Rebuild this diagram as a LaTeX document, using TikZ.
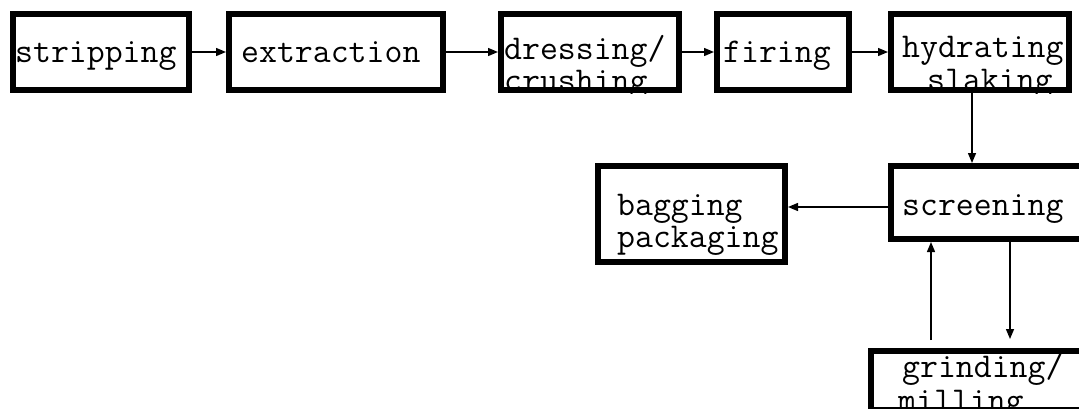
\documentclass[tikz,border=0pt]{standalone}
\usepackage{fontspec}
\usetikzlibrary{arrows.meta,calc}
\begin{document}
\begin{tikzpicture}[x=1pt,y=-1pt,
  box/.style={draw,line width=6pt,rectangle,inner sep=0pt},
  lbl/.style={anchor=base west,inner sep=0pt,font=\ttfamily\fontsize{34.8}{34.8}\selectfont},
  arr/.style={line width=1.4pt,-{Triangle[length=10pt,width=8pt]}}]
\useasboundingbox (0,0) rectangle (1079,408);

% boxes
\node[box,minimum width=176pt,minimum height=76pt] (strip) at (101,52) {};
\node[box,minimum width=214pt,minimum height=76pt] (extr) at (336,52) {};
\node[box,minimum width=178pt,minimum height=76pt] (dress) at (590,52) {};
\node[box,minimum width=132pt,minimum height=76pt] (fire) at (783,52) {};
\node[box,minimum width=178pt,minimum height=76pt] (hydr) at (980,52) {};
\node[box,minimum width=187pt,minimum height=96pt] (bag) at (691.5,214) {};
\node[box,minimum width=198pt,minimum height=73pt] (screen) at (990,202.5) {};
\node[box,minimum width=218pt,minimum height=59pt] (grind) at (980,380.5) {};

% texts
\begin{scope}
\clip (strip.north west) rectangle (strip.south east);
\node[lbl] (tstrip) at (15,62) {stripping};
\end{scope}
\begin{scope}
\clip (extr.north west) rectangle (extr.south east);
\node[lbl] (textr) at (241,62) {extraction};
\end{scope}
\begin{scope}
\clip (dress.north west) rectangle (dress.south east);
\node[lbl] (tdress1) at (504,59) {dressing/};
\node[lbl] (tdress2) at (504,91) {crushing};
\end{scope}
\begin{scope}
\clip (fire.north west) rectangle (fire.south east);
\node[lbl] (tfire) at (723,62) {firing};
\end{scope}
\begin{scope}
\clip (hydr.north west) rectangle (hydr.south east);
\node[lbl] (thydr1) at (902,57) {hydrating};
\node[lbl] (thydr2) at (927,90) {slaking};
\end{scope}
\begin{scope}
\clip (bag.north west) rectangle (bag.south east);
\node[lbl] (tbag1) at (617,215) {bagging};
\node[lbl] (tbag2) at (617,247) {packaging};
\end{scope}
\begin{scope}
\clip (screen.north west) rectangle (screen.south east);
\node[lbl] (tscreen) at (902,215) {screening};
\end{scope}
\begin{scope}
\clip (grind.north west) rectangle (grind.south east);
\node[lbl] (tgrind1) at (902,377) {grinding/};
\node[lbl] (tgrind2) at (898,411) {milling};
\end{scope}

% connectors
\draw[arr] (strip) -- (extr);
\draw[arr] (extr) -- (dress);
\draw[arr] (dress) -- (fire);
\draw[arr] (fire) -- (hydr);
\draw[arr] ($(hydr.south)+(-8,0)$) -- ($(screen.north)+(-18,0)$);
\coordinate (sb) at ($(screen.west)+(0,4.5)$);
\draw[arr] (sb) -- (sb -| bag.east);
\coordinate (gup) at (931,340);
\draw[arr] (gup) -- (gup |- screen.south);
\coordinate (gdn) at (1010,339);
\draw[arr] (gdn |- screen.south) -- (gdn);
\end{tikzpicture}
\end{document}
